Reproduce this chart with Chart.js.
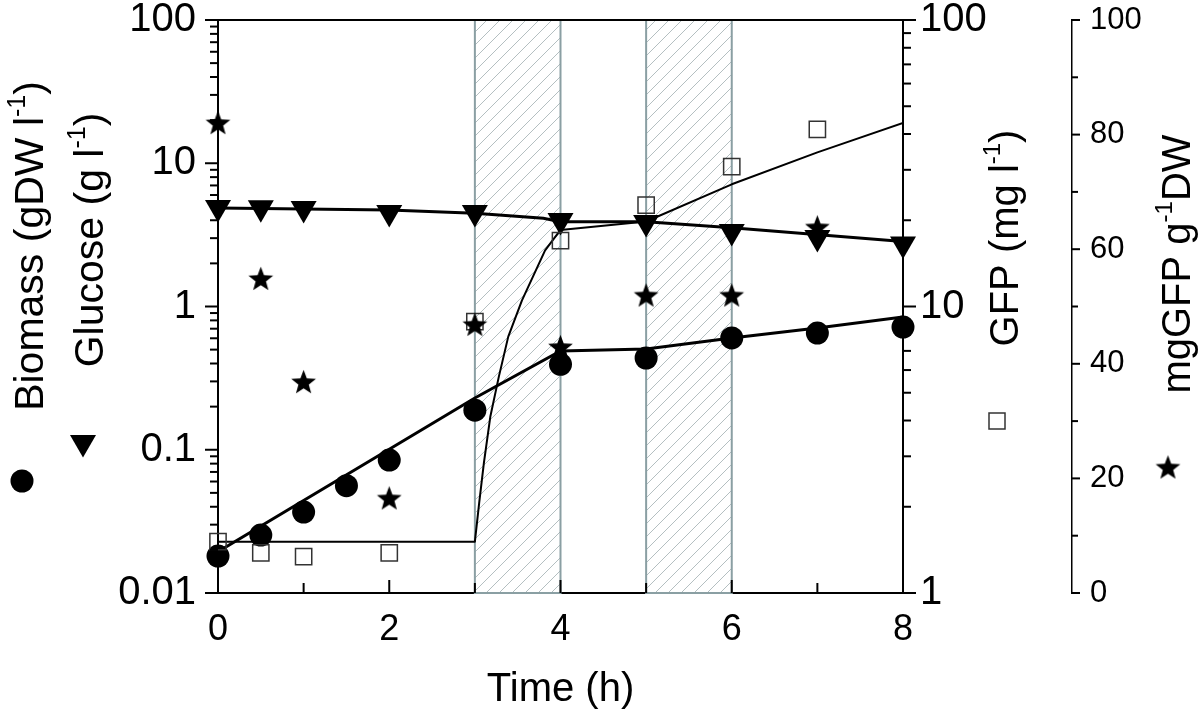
<!DOCTYPE html>
<html>
<head>
<meta charset="utf-8">
<script src="https://cdn.jsdelivr.net/npm/chart.js@4.4.1/dist/chart.umd.min.js"></script>
<style>
  html, body { margin: 0; padding: 0; background: #fff; }
  #wrap { width: 1200px; height: 714px; }
</style>
</head>
<body>
<div id="wrap"><canvas id="chart" width="1200" height="714"></canvas></div>
<script>
// measured points (time in h)
const timeBiomass = [0, 0.5, 1, 1.5, 2, 3, 4, 5, 6, 7, 8];
const biomass = [0.0181, 0.0254, 0.0367, 0.0561, 0.0848, 0.189, 0.395, 0.437, 0.603, 0.653, 0.719];
const biomassFitTime = [0, 3, 4, 5, 6, 7, 8];
const biomassFit = [0.0194, 0.230, 0.489, 0.505, 0.603, 0.708, 0.845];

const timeGlucose = [0, 0.5, 1, 2, 3, 4, 5, 6, 7, 8];
const glucose = [4.91, 4.9, 4.84, 4.53, 4.53, 3.98, 3.86, 3.34, 3.03, 2.73];
const glucoseFitTime = [0, 2, 3, 3.8, 4, 5, 6, 8];
const glucoseFit = [4.87, 4.72, 4.47, 4.13, 3.91, 3.91, 3.55, 2.84];

const timeGfp = [0, 0.5, 1, 2, 3, 4, 5, 6, 7];
const gfp = [1.51, 1.38, 1.34, 1.38, 8.85, 16.97, 22.6, 30.8, 41.5];
const gfpFitTime = [0, 3, 3.05, 3.105, 3.18, 3.28, 3.39, 3.55, 3.82, 4, 5, 6, 7, 8];
const gfpFit = [1.51, 1.51, 2.06, 2.84, 4.12, 5.69, 7.85, 10.5, 15.7, 18.5, 19.8, 26.7, 34.5, 43.7];

const timeSpecific = [0, 0.5, 1, 2, 3, 4, 5, 6, 7];
const specificGfp = [82.1, 54.9, 36.9, 16.6, 46.9, 43.0, 52.0, 52.0, 63.9];

// hatched induction windows
const bandStart = [3, 5];
const bandEnd = [4, 6];

// tick labels
const xTicks = [0, 2, 4, 6, 8];
const leftTicks = [0.01, 0.1, 1, 10, 100];
const gfpTicks = [1, 10, 100];
const specificTicks = [0, 20, 40, 60, 80, 100];

const FONT = '"Liberation Sans", Arial, sans-serif';

function pairs(xs, ys) {
    return xs.map((x, i) => ({ x: x, y: ys[i] }));
}

// filled 5 point star used as marker
function makeStar(size) {
    const c = document.createElement('canvas');
    c.width = size;
    c.height = size;
    const g = c.getContext('2d');
    const cx = size / 2, cy = size / 2 + 1.2;
    const R = size / 2 - 0.5, r = R * 0.42;
    g.beginPath();
    for (let i = 0; i < 10; i++) {
        const a = -Math.PI / 2 + i * Math.PI / 5;
        const rad = i % 2 === 0 ? R : r;
        g.lineTo(cx + rad * Math.cos(a), cy + rad * Math.sin(a));
    }
    g.closePath();
    g.fillStyle = '#000';
    g.fill();
    return c;
}
const starImg = makeStar(27);

function makeHatch() {
    const s = 13;
    const c = document.createElement('canvas');
    c.width = s;
    c.height = s;
    const g = c.getContext('2d');
    g.strokeStyle = '#b4bfc1';
    g.lineWidth = 1;
    g.beginPath();
    g.moveTo(-1, s + 1); g.lineTo(s + 1, -1);
    g.moveTo(-1, 1); g.lineTo(1, -1);
    g.moveTo(s - 1, s + 1); g.lineTo(s + 1, s - 1);
    g.stroke();
    return c;
}

function seg(ctx, x0, y0, x1, y1) {
    ctx.beginPath();
    ctx.moveTo(x0, y0);
    ctx.lineTo(x1, y1);
    ctx.stroke();
}

// vertical title with a superscript part; parts = [[text, isSup], ...]
function vTitle(ctx, parts, baseX, cy, size) {
    const supSize = Math.round(size * 0.6);
    ctx.save();
    ctx.translate(baseX, cy);
    ctx.rotate(-Math.PI / 2);
    ctx.textBaseline = 'alphabetic';
    ctx.textAlign = 'left';
    ctx.fillStyle = '#000';
    let total = 0;
    parts.forEach(p => {
        ctx.font = (p[1] ? supSize : size) + 'px ' + FONT;
        total += ctx.measureText(p[0]).width;
    });
    let x = -total / 2;
    parts.forEach(p => {
        ctx.font = (p[1] ? supSize : size) + 'px ' + FONT;
        ctx.fillText(p[0], x, p[1] ? -size * 0.45 : 0);
        x += ctx.measureText(p[0]).width;
    });
    ctx.restore();
}

const bandsPlugin = {
    id: 'bands',
    beforeDatasetsDraw(chart) {
        const { ctx, chartArea: a, scales } = chart;
        ctx.save();
        bandStart.forEach((s, i) => {
            const x0 = scales.x.getPixelForValue(s);
            const x1 = scales.x.getPixelForValue(bandEnd[i]);
            ctx.fillStyle = ctx.createPattern(makeHatch(), 'repeat');
            ctx.fillRect(x0, a.top, x1 - x0, a.bottom - a.top);
            ctx.strokeStyle = '#8a9fa3';
            ctx.lineWidth = 2;
            ctx.strokeRect(x0, a.top, x1 - x0, a.bottom - a.top);
        });
        ctx.restore();
    }
};

const framePlugin = {
    id: 'frame',
    afterDraw(chart) {
        const { ctx, chartArea: a, scales } = chart;
        ctx.save();
        ctx.strokeStyle = '#000';
        ctx.lineWidth = 2;
        seg(ctx, a.left, a.top, a.right, a.top);

        // log axis ticks, pointing outwards
        for (let i = 0; i < leftTicks.length; i++) {
            const d = leftTicks[i];
            const y = scales.y.getPixelForValue(d);
            seg(ctx, a.left - 13, y, a.left, y);
            if (i < leftTicks.length - 1) {
                for (let m = 2; m <= 9; m++) {
                    const ym = scales.y.getPixelForValue(d * m);
                    seg(ctx, a.left - 8, ym, a.left, ym);
                }
            }
        }
        for (let i = 0; i < gfpTicks.length; i++) {
            const d = gfpTicks[i];
            const y = scales.yGfp.getPixelForValue(d);
            seg(ctx, a.right, y, a.right + 13, y);
            if (i < gfpTicks.length - 1) {
                for (let m = 2; m <= 9; m++) {
                    const ym = scales.yGfp.getPixelForValue(d * m);
                    seg(ctx, a.right, ym, a.right + 8, ym);
                }
            }
        }
        // far right linear axis
        const sx = scales.yMg.left;
        for (let v = 0; v <= 100; v += 10) {
            const y = scales.yMg.getPixelForValue(v);
            seg(ctx, sx, y, sx + (v % 20 === 0 ? 8 : 6), y);
        }
        // x ticks, pointing inwards
        for (let t = 0; t <= 8; t++) {
            const x = scales.x.getPixelForValue(t);
            seg(ctx, x, a.bottom, x, a.bottom - (t % 2 === 0 ? 13 : 10));
        }

        // axis titles
        vTitle(ctx, [['Biomass (gDW l', false], ['-1', true], [')', false]], 43, 246, 41);
        vTitle(ctx, [['Glucose (g l', false], ['-1', true], [')', false]], 103, 240, 41);
        vTitle(ctx, [['GFP (mg l', false], ['-1', true], [')', false]], 1018, 238, 40);
        vTitle(ctx, [['mgGFP g', false], ['-1', true], ['DW', false]], 1190, 264, 40);

        // legend symbols next to the titles
        ctx.fillStyle = '#000';
        ctx.beginPath();
        ctx.arc(22, 481, 11.5, 0, Math.PI * 2);
        ctx.fill();
        ctx.beginPath();
        ctx.moveTo(83, 457.5);
        ctx.lineTo(83 - 13, 435);
        ctx.lineTo(83 + 13, 435);
        ctx.closePath();
        ctx.fill();
        ctx.strokeStyle = '#333';
        ctx.lineWidth = 1.5;
        ctx.strokeRect(989, 413, 16, 16);
        ctx.drawImage(starImg, 1168 - 13.5, 467 - 13.5);
        ctx.restore();
    }
};

const tickFont = { family: FONT, size: 40 };

new Chart(document.getElementById('chart'), {
    type: 'scatter',
    data: {
        datasets: [
            {
                label: 'mgGFP g-1 DW',
                data: pairs(timeSpecific, specificGfp),
                yAxisID: 'yMg',
                pointStyle: starImg,
                pointRadius: 13,
                showLine: false,
                clip: false
            },
            {
                label: 'GFP',
                data: pairs(timeGfp, gfp),
                yAxisID: 'yGfp',
                pointStyle: 'rect',
                pointRadius: 11.5,
                pointBorderWidth: 1.5,
                borderColor: '#333',
                backgroundColor: 'rgba(0,0,0,0)',
                showLine: false,
                clip: false
            },
            {
                label: 'Biomass',
                data: pairs(timeBiomass, biomass),
                yAxisID: 'y',
                pointStyle: 'circle',
                pointRadius: 11.5,
                pointBorderWidth: 0,
                backgroundColor: '#000',
                borderColor: '#000',
                showLine: false,
                clip: false
            },
            {
                label: 'Glucose',
                data: pairs(timeGlucose, glucose),
                yAxisID: 'y',
                pointStyle: 'triangle',
                pointRotation: 180,
                pointRadius: 15,
                pointBorderWidth: 0,
                backgroundColor: '#000',
                borderColor: '#000',
                showLine: false,
                clip: false
            },
            {
                label: 'Biomass fit',
                data: pairs(biomassFitTime, biomassFit),
                yAxisID: 'y',
                showLine: true,
                pointRadius: 0,
                borderColor: '#000',
                borderWidth: 3,
                tension: 0
            },
            {
                label: 'Glucose fit',
                data: pairs(glucoseFitTime, glucoseFit),
                yAxisID: 'y',
                showLine: true,
                pointRadius: 0,
                borderColor: '#000',
                borderWidth: 3,
                tension: 0
            },
            {
                label: 'GFP fit',
                data: pairs(gfpFitTime, gfpFit),
                yAxisID: 'yGfp',
                showLine: true,
                pointRadius: 0,
                borderColor: '#000',
                borderWidth: 2,
                borderJoinStyle: 'round',
                tension: 0
            }
        ]
    },
    options: {
        responsive: false,
        animation: false,
        layout: { padding: { top: 20, left: 0, right: 0, bottom: 0 } },
        plugins: {
            legend: { display: false },
            tooltip: { enabled: false }
        },
        scales: {
            x: {
                type: 'linear',
                min: 0,
                max: 8,
                afterBuildTicks: s => { s.ticks = xTicks.map(v => ({ value: v })); },
                grid: { display: false, drawTicks: false },
                border: { display: true, color: '#000', width: 2 },
                ticks: { font: { family: FONT, size: 36 }, color: '#000', padding: 15, maxRotation: 0, autoSkip: false },
                title: {
                    display: true,
                    text: 'Time (h)',
                    color: '#000',
                    font: { family: FONT, size: 40 },
                    padding: { top: 0, bottom: 0 }
                },
                afterFit: s => { s.height = 121; s.paddingLeft = 0; s.paddingRight = 0; }
            },
            y: {
                type: 'logarithmic',
                position: 'left',
                min: 0.01,
                max: 100,
                afterBuildTicks: s => { s.ticks = leftTicks.map(v => ({ value: v })); },
                grid: { display: false, drawTicks: false },
                border: { display: true, color: '#000', width: 2 },
                ticks: { font: tickFont, color: '#000', padding: 22, autoSkip: false, callback: v => String(v) },
                afterFit: s => { s.width = 218; s.paddingTop = 0; s.paddingBottom = 0; }
            },
            yGfp: {
                type: 'logarithmic',
                position: 'right',
                weight: 0,
                min: 1,
                max: 100,
                afterBuildTicks: s => { s.ticks = gfpTicks.map(v => ({ value: v })); },
                grid: { display: false, drawTicks: false },
                border: { display: true, color: '#000', width: 2 },
                ticks: { font: tickFont, color: '#000', padding: 17, autoSkip: false, callback: v => String(v) },
                afterFit: s => { s.width = 169; s.paddingTop = 0; s.paddingBottom = 0; }
            },
            yMg: {
                type: 'linear',
                position: 'right',
                weight: 1,
                min: 0,
                max: 100,
                afterBuildTicks: s => { s.ticks = specificTicks.map(v => ({ value: v })); },
                grid: { display: false, drawTicks: false },
                border: { display: true, color: '#000', width: 1.5 },
                ticks: { font: { family: FONT, size: 31 }, color: '#000', padding: 18, autoSkip: false },
                afterFit: s => { s.width = 128; s.paddingTop = 0; s.paddingBottom = 0; }
            }
        }
    },
    plugins: [bandsPlugin, framePlugin]
});
</script>
</body>
</html>
